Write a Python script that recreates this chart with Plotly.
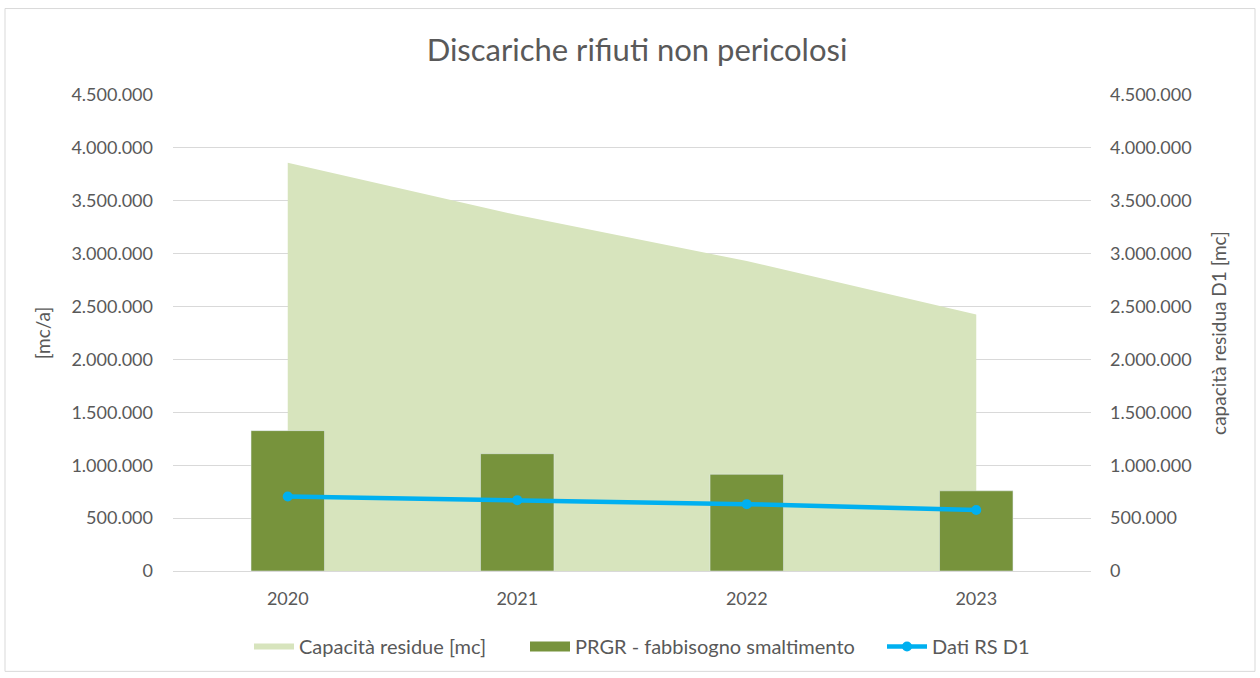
import plotly.graph_objects as go

years = ["2020", "2021", "2022", "2023"]
capacita_residue = [3860000, 3365000, 2930000, 2425000]
prgr_fabbisogno = [1327000, 1109000, 914000, 758000]
dati_rs_d1 = [705000, 670000, 632000, 576000]

FONT = "Lato"
GREY = "#595959"
AREA_C = "#d7e4bd"
BAR_C = "#77933c"
LINE_C = "#00b0f0"

fig = go.Figure()

fig.add_trace(go.Scatter(
    x=years, y=capacita_residue, name="Capacità residue [mc]",
    mode="none", fill="tozeroy", fillcolor=AREA_C,
    yaxis="y", xaxis="x", legend="legend",
))
fig.add_trace(go.Bar(
    x=years, y=prgr_fabbisogno, name="PRGR - fabbisogno smaltimento",
    marker=dict(color=BAR_C), width=0.32, yaxis="y2", xaxis="x",
    showlegend=False, legendgroup="prgr",
))
# legend-only entry for the bars (wide rectangle symbol like the original)
fig.add_trace(go.Scatter(
    x=[None], y=[None], name="PRGR - fabbisogno smaltimento", mode="lines",
    line=dict(color=BAR_C, width=11), yaxis="y2", xaxis="x",
    legend="legend2", legendgroup="prgr",
))
fig.add_trace(go.Scatter(
    x=years, y=dati_rs_d1, name="Dati RS D1", mode="lines+markers",
    line=dict(color=LINE_C, width=4.5),
    marker=dict(color=LINE_C, size=10),
    yaxis="y2", xaxis="x", legend="legend3",
))

tick_font = dict(family=FONT, size=18, color=GREY)
leg_font = dict(family=FONT, size=20, color=GREY)
leg_y = (574 - 650) / 479


def leg_x(px):
    return (px - 173) / 918


common_leg = dict(orientation="h", xanchor="left", y=leg_y, yanchor="middle",
                  font=leg_font, bgcolor="rgba(0,0,0,0)", itemwidth=40)

fig.update_layout(
    width=1260, height=678,
    margin=dict(l=173, r=169, t=95, b=104),
    paper_bgcolor="white", plot_bgcolor="white",
    separators=",.",
    font=dict(family=FONT, color=GREY),
    title=dict(text="Discariche rifiuti non pericolosi", x=637 / 1260, xanchor="center",
               y=1 - 50 / 678, yanchor="middle",
               font=dict(family=FONT, size=31, color=GREY)),
    xaxis=dict(type="category", range=[-0.5, 3.5], showgrid=False,
               showline=True, linecolor="#d9d9d9", linewidth=1,
               ticks="", tickfont=tick_font, ticklabelstandoff=11),
    yaxis=dict(side="right", range=[0, 4500000], dtick=500000,
               tickformat=",d", showgrid=True, gridcolor="#d9d9d9",
               zeroline=False, tickfont=tick_font, ticklabelstandoff=18,
               title=dict(text="capacità residua D1 [mc]",
                          font=dict(family=FONT, size=19, color=GREY), standoff=22)),
    yaxis2=dict(side="left", overlaying="y", range=[0, 4500000], dtick=500000,
                tickformat=",d", showgrid=False, zeroline=False,
                tickfont=tick_font, ticklabelstandoff=19,
                title=dict(text="[mc/a]",
                           font=dict(family=FONT, size=19, color=GREY), standoff=15)),
    legend=dict(common_leg, x=leg_x(249)),
    legend2=dict(common_leg, x=leg_x(525)),
    legend3=dict(common_leg, x=leg_x(882)),
    showlegend=True,
    shapes=[dict(type="rect", xref="paper", yref="paper",
                 x0=(5 - 173) / 918, x1=(1255 - 173) / 918,
                 y0=(574 - 675) / 479, y1=(574 - 8) / 479,
                 line=dict(color="#d9d9d9", width=1), layer="below")],
)

fig.write_html("out.html", config={"displayModeBar": False},
               post_script="document.body.style.margin='0';document.body.style.overflow='hidden';")
